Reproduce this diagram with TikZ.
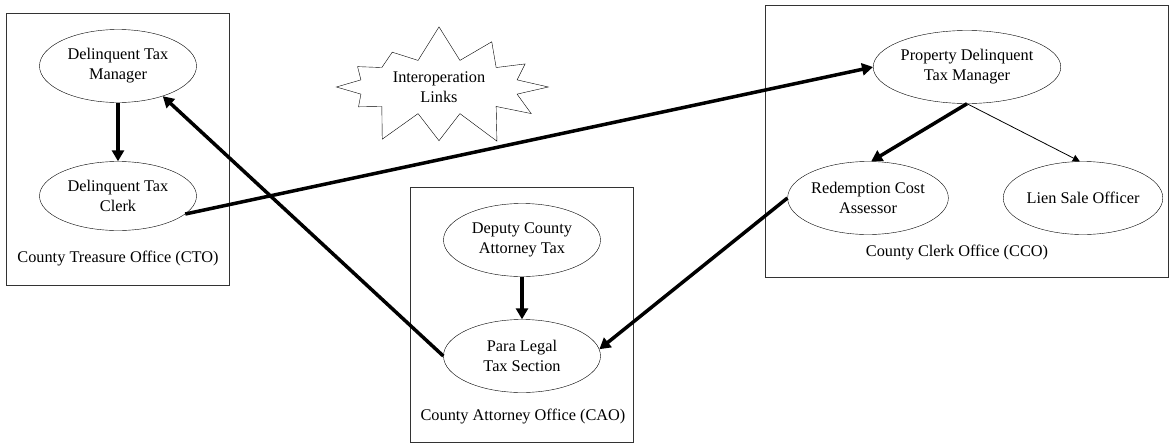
\documentclass[tikz,border=0pt]{standalone}
\usepackage{fontspec}
\setmainfont{Liberation Serif}
\usetikzlibrary{shapes, arrows.meta, positioning}

\begin{document}
\begin{tikzpicture}[x=1pt, y=-1pt,
        role/.style={ellipse, draw, thin, minimum width=157pt, minimum height=73pt, inner sep=0pt, align=center, font=\fontsize{16.3}{20}\selectfont},
        office/.style={rectangle, draw=black!80, thin, inner sep=0pt},
        caption/.style={font=\fontsize{16.3}{20}\selectfont},
        link/.style={-{Triangle[length=11pt, width=12pt]}, line width=3.5pt},
        thinlink/.style={-{Triangle[length=7pt, width=7pt]}, line width=0.8pt}
    ]
    \useasboundingbox (0,0) rectangle (1171,445);

    % Offices
    \node[office, minimum width=223pt, minimum height=272pt] (cto) at (117.5,149) {};
    \node[office, minimum width=223pt, minimum height=255pt] (cao) at (521.5,314.5) {};
    \node[office, minimum width=403pt, minimum height=272pt] (cco) at (966.5,141) {};

    \node[caption] (ctolabel) at (118,259) {County Treasure Office (CTO)};
    \node[caption] (caolabel) at (523,417) {County Attorney Office (CAO)};
    \node[caption] (ccolabel) at (957,253) {County Clerk Office (CCO)};

    % Roles
    \node[role] (dtm) at (118,66) {Delinquent Tax\\Manager};
    \node[role, minimum height=69pt] (dtc) at (118,196) {Delinquent Tax\\Clerk};
    \node[role] (dcat) at (522,240) {Deputy County\\Attorney Tax};
    \node[role] (plts) at (522,356) {Para Legal\\Tax Section};
    \node[role] (pdtm) at (967,67) {Property Delinquent\\Tax Manager};
    \node[role] (rca) at (868,198) {Redemption Cost\\Assessor};
    \node[role] (lso) at (1083,198) {Lien Sale Officer};

    % Legend
    \node[starburst, draw, thin, starburst points=12, starburst point height=36pt,
          random starburst=7, inner xsep=11pt, inner ysep=4pt,
          align=center, font=\fontsize{16.3}{20}\selectfont] (links) at (439,87) {Interoperation\\Links};

    % Arrows inside offices
    \draw[link] (dtm) -- (dtc);
    \draw[link] (dcat) -- (plts);
    \draw[link] (pdtm.south) -- (rca.85);
    \draw[thinlink] (pdtm.south) -- (lso.95);

    % Arrows between offices
    \draw[link] (dtc.-15) -- (pdtm.west);
    \draw[link] (plts.west) -- (dtm.-34);
    \draw[link] (rca.west) -- (plts.5);

\end{tikzpicture}
\end{document}
